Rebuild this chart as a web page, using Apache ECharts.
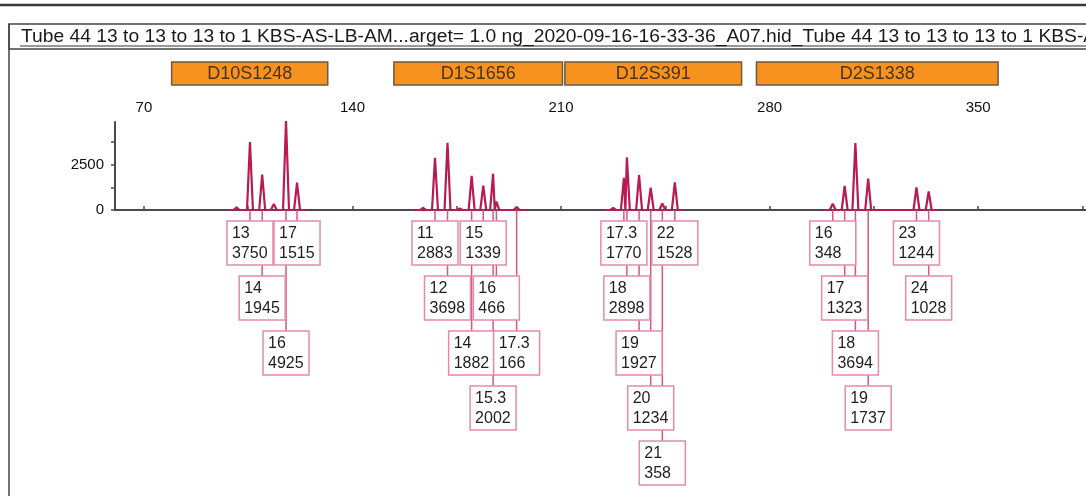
<!DOCTYPE html>
<html>
<head>
<meta charset="utf-8">
<title>Electropherogram</title>
<script src="https://cdn.jsdelivr.net/npm/echarts@6/dist/echarts.min.js"></script>
<style>
  html, body { margin: 0; padding: 0; background: #fff; }
  #chart { width: 1086px; height: 496px; }
</style>
</head>
<body>
<div id="chart"></div>
<script>
const runTitle = 'Tube 44 13 to 13 to 13 to 1 KBS-AS-LB-AM...arget= 1.0 ng_2020-09-16-16-33-36_A07.hid_Tube 44 13 to 13 to 13 to 1 KBS-AS-LB-AM';

// marker panels (bp)
const loci = ['D10S1248', 'D1S1656', 'D12S391', 'D2S1338'];
const lociStart = [79.3, 153.9, 211.3, 275.6];
const lociEnd = [131.7, 210.5, 270.6, 356.7];

// called alleles
const callAllele = ['13', '14', '16', '17', '11', '12', '14', '15', '15.3', '16', '17.3', '17.3', '18', '19', '20', '21', '22', '16', '17', '18', '19', '23', '24'];
const callRfu = [3750, 1945, 4925, 1515, 2883, 3698, 1882, 1339, 2002, 466, 166, 1770, 2898, 1927, 1234, 358, 1528, 348, 1323, 3694, 1737, 1244, 1028];
const callSize = [105.6, 109.7, 117.7, 121.4, 167.7, 171.9, 180.0, 183.9, 187.2, 188.3, 195.1, 231.1, 232.1, 236.2, 240.1, 244.0, 248.2, 301.2, 305.2, 308.8, 313.1, 329.3, 333.4];

// small uncalled peaks (stutter)
const minorSize = [101.1, 113.6, 163.7, 176.0, 227.5];
const minorRfu = [150, 330, 110, 80, 110];

// size axis ticks / labels
const sizeTicks = [70, 105, 140, 175, 210, 245, 280, 315, 350, 385];
const sizeLabels = [70, 140, 210, 280, 350];
const rfuTicks = [0, 1250, 2500, 3750];
const rfuLabels = [0, 2500];

// label box tier under the baseline (layout only)
const callRow = [0, 1, 2, 0, 0, 1, 2, 0, 3, 1, 2, 0, 1, 2, 3, 4, 0, 0, 1, 2, 3, 0, 1];

const FONT = '"Liberation Sans", Arial, sans-serif';
const xMin = 60.3, xMax = 386.2;
const peakHalf = 1.0;

const allPeaks = callSize.map((s, i) => [s, callRfu[i]])
  .concat(minorSize.map((s, i) => [s, minorRfu[i]]));

// one trace per marker panel, so the line breaks between panels
const traceSeries = loci.map((name, k) => {
  const pk = allPeaks.filter(p => p[0] >= lociStart[k] && p[0] <= lociEnd[k])
    .sort((a, b) => a[0] - b[0]);
  const pts = [[pk[0][0] - 3, 0]];
  pk.forEach((p, j) => {
    const prev = pk[j - 1], next = pk[j + 1];
    const left = prev ? Math.max(p[0] - peakHalf, (prev[0] + p[0]) / 2) : p[0] - peakHalf;
    const right = next ? Math.min(p[0] + peakHalf, (next[0] + p[0]) / 2) : p[0] + peakHalf;
    pts.push([left, 0], [p[0], p[1]], [right, 0]);
  });
  pts.push([pk[pk.length - 1][0] + 3, 0]);
  return {
    name: name,
    type: 'line',
    xAxisIndex: 1,
    yAxisIndex: 1,
    data: pts,
    symbol: 'none',
    z: 3,
    lineStyle: { color: '#b81a52', width: 2.2 }
  };
});

const callData = callSize.map((s, i) => [s, callRfu[i], callRow[i]]);

const boxTop = (api) => {
  const p = api.coord([api.value(0), 0]);
  return [p[0], p[1], p[1] + 11 + api.value(2) * 55];
};

const option = {
  animation: false,
  backgroundColor: '#fff',
  grid: [
    { left: 115, right: 0, top: 62, height: 23, show: false },
    { left: 115, right: 0, top: 122, height: 88, show: false }
  ],
  xAxis: [
    { gridIndex: 0, type: 'value', min: xMin, max: xMax, show: false },
    {
      gridIndex: 1, type: 'value', position: 'top', min: xMin, max: xMax,
      axisLine: { show: true, lineStyle: { color: '#4a4a4a', width: 2 } },
      axisTick: { show: true, length: 4, customValues: sizeTicks, lineStyle: { color: '#4a4a4a', width: 1.5 } },
      axisLabel: { show: true, customValues: sizeLabels, color: '#111', fontSize: 15, fontFamily: FONT, margin: 7 },
      splitLine: { show: false }
    },
    {
      gridIndex: 1, type: 'value', position: 'bottom', min: xMin, max: xMax,
      axisLine: { show: true, lineStyle: { color: '#4a4a4a', width: 2 } },
      axisTick: { show: false },
      axisLabel: { show: false },
      splitLine: { show: false }
    }
  ],
  yAxis: [
    { gridIndex: 0, type: 'value', min: 0, max: 1, show: false },
    {
      gridIndex: 1, type: 'value', min: 0, max: 4850,
      axisLine: { show: true, lineStyle: { color: '#4a4a4a', width: 2 } },
      axisTick: { show: true, length: 4, customValues: rfuTicks, lineStyle: { color: '#4a4a4a', width: 1.5 } },
      axisLabel: { show: true, customValues: rfuLabels, formatter: v => String(v), color: '#111', fontSize: 15, fontFamily: FONT, margin: 11 },
      splitLine: { show: false }
    }
  ],
  graphic: [
    { type: 'line', shape: { x1: 0, y1: 5, x2: 1086, y2: 5 }, style: { stroke: '#3a3a3a', lineWidth: 2.5 } },
    { type: 'rect', shape: { x: 9, y: 24, width: 1090, height: 25 }, style: { fill: 'none', stroke: '#444', lineWidth: 1.5 } },
    { type: 'line', shape: { x1: 9, y1: 24, x2: 9, y2: 500 }, style: { stroke: '#444', lineWidth: 1.5 } },
    { type: 'line', shape: { x1: 20, y1: 46, x2: 1086, y2: 46 }, style: { stroke: '#333', lineWidth: 1 } },
    {
      type: 'text', x: 21, y: 37, scaleX: 1.07,
      style: { text: runTitle, font: '18px ' + FONT, fill: '#1a1a1a', verticalAlign: 'middle' }
    }
  ],
  series: [
    {
      type: 'custom',
      xAxisIndex: 0,
      yAxisIndex: 0,
      data: loci.map((n, i) => [lociStart[i], lociEnd[i]]),
      renderItem: (params, api) => {
        const a = api.coord([api.value(0), 1]);
        const b = api.coord([api.value(1), 0]);
        return {
          type: 'group',
          children: [
            { type: 'rect', shape: { x: a[0], y: a[1], width: b[0] - a[0], height: b[1] - a[1] },
              style: { fill: '#f7921f', stroke: '#6b5a44', lineWidth: 1.5 } },
            { type: 'text', style: { text: loci[params.dataIndex], x: (a[0] + b[0]) / 2, y: (a[1] + b[1]) / 2 + 1,
              align: 'center', verticalAlign: 'middle', font: '18px ' + FONT, fill: '#4a3318' } }
          ]
        };
      }
    },
    ...traceSeries,
    {
      type: 'custom',
      xAxisIndex: 1,
      yAxisIndex: 1,
      z: 4,
      clip: false,
      data: callData,
      renderItem: (params, api) => {
        const [x, y0, top] = boxTop(api);
        return { type: 'line', shape: { x1: x, y1: y0, x2: x, y2: top },
          style: { stroke: '#d25882', lineWidth: 1.5 } };
      }
    },
    {
      type: 'custom',
      xAxisIndex: 1,
      yAxisIndex: 1,
      z: 5,
      clip: false,
      data: callData,
      renderItem: (params, api) => {
        const [x, y0, top] = boxTop(api);
        return {
          type: 'group',
          children: [
            { type: 'rect', shape: { x: x - 23, y: top, width: 46, height: 44 },
              style: { fill: '#fff', stroke: '#e68aa8', lineWidth: 1.5 } },
            { type: 'text', style: { text: callAllele[params.dataIndex], x: x - 18, y: top + 13,
              verticalAlign: 'middle', font: '16px ' + FONT, fill: '#1e1e1e' } },
            { type: 'text', style: { text: String(api.value(1)), x: x - 18, y: top + 33,
              verticalAlign: 'middle', font: '16px ' + FONT, fill: '#1e1e1e' } }
          ]
        };
      }
    }
  ]
};

const myChart = echarts.init(document.getElementById('chart'));
myChart.setOption(option);
</script>
</body>
</html>
